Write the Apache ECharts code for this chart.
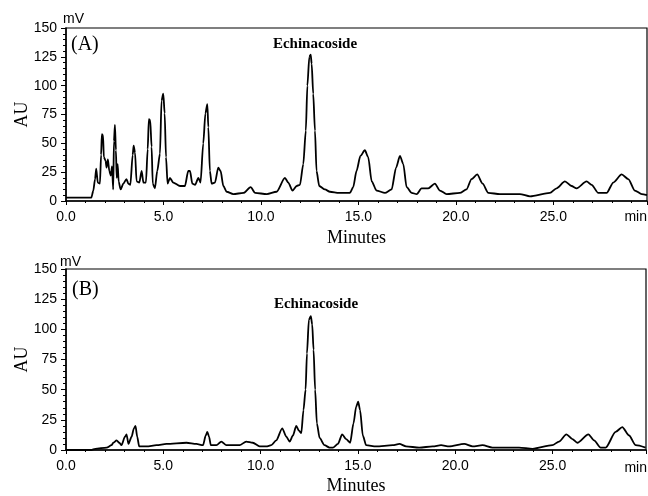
<!DOCTYPE html>
<html>
<head>
<meta charset="utf-8">
<script src="https://cdn.jsdelivr.net/npm/echarts@6/dist/echarts.min.js"></script>
<style>
  html, body { margin: 0; padding: 0; background: #fff; }
  #chart { width: 648px; height: 496px; }
</style>
</head>
<body>
<div id="chart"></div>
<script>
// chromatogram (A): retention time (min) and signal (mV)
var timesA = [0, 1.3, 1.4, 1.49, 1.55, 1.63, 1.74, 1.8, 1.84, 1.9, 1.94, 2.03, 2.08, 2.15, 2.22, 2.3, 2.36, 2.42, 2.46, 2.51,
    2.56, 2.6, 2.65, 2.7, 2.8, 2.94, 3.1, 3.2, 3.3, 3.42, 3.47, 3.54, 3.62, 3.76, 3.88, 3.97, 4.1, 4.19, 4.25, 4.32,
    4.39, 4.45, 4.56, 4.68, 4.82, 4.9, 4.99, 5.06, 5.13, 5.21, 5.33, 5.5, 5.85, 6.1, 6.27, 6.36, 6.48, 6.62, 6.79, 6.9,
    7.04, 7.15, 7.25, 7.3, 7.38, 7.47, 7.64, 7.81, 7.93, 8.07, 8.24, 8.58, 9.1, 9.47, 9.7, 10.3, 10.8, 11.23, 11.4, 11.62,
    11.83, 12.0, 12.17, 12.3, 12.38, 12.48, 12.55, 12.6, 12.68, 12.77, 12.85, 12.99, 13.28, 13.54, 14.0, 14.56, 14.73, 14.9, 15.1, 15.33,
    15.5, 15.68, 15.93, 16.36, 16.7, 16.93, 17.13, 17.3, 17.47, 17.73, 17.99, 18.24, 18.58, 18.92, 19.18, 19.52, 20.2, 20.54, 20.8, 21.09,
    21.37, 21.66, 22.26, 23.28, 23.8, 24.82, 25.16, 25.59, 25.93, 26.19, 26.7, 26.96, 27.3, 27.73, 28.07, 28.5, 28.84, 29.18, 29.53, 29.8]
var signalA = [3, 3, 9, 19, 28, 16, 15, 40, 58, 57, 38, 35, 29, 36, 26, 22, 30, 10, 52, 66,
    44, 20, 32, 17, 10, 15, 19, 15, 14, 40, 48, 42, 17, 16, 26, 16, 16, 45, 71, 70,
    47, 15, 11, 26, 41, 87, 93, 76, 38, 15, 20, 16, 13, 13, 26, 26, 15, 14, 20, 16,
    50, 76, 84, 64, 26, 15, 16, 29, 26, 13, 8, 6, 7, 12, 7, 6, 8, 20, 16, 9,
    13, 14, 32, 61, 100, 125, 127, 119, 93, 61, 26, 13, 10, 8, 7, 7, 12, 26, 39, 44,
    38, 17, 9, 7, 10, 29, 39, 32, 12, 7, 6, 11, 11, 15, 9, 6, 7, 10, 19, 23,
    15, 7, 6, 6, 4, 7, 11, 17, 13, 11, 17, 14, 7, 7, 16, 23, 19, 9, 6, 5]

// chromatogram (B)
var timesB = [0, 1.3, 1.5, 2.09, 2.34, 2.43, 2.6, 2.74, 2.85, 3.03, 3.11, 3.21, 3.37, 3.49, 3.57, 3.66, 3.76, 4.14, 4.65, 5.16,
    6.19, 6.7, 7.04, 7.18, 7.26, 7.35, 7.44, 7.73, 7.98, 8.24, 8.58, 8.92, 9.26, 9.6, 9.95, 10.29, 10.55, 10.8, 11.11, 11.32,
    11.49, 11.66, 11.83, 11.97, 12.09, 12.2, 12.31, 12.38, 12.48, 12.58, 12.65, 12.72, 12.8, 12.89, 13.03, 13.28, 13.54, 13.71, 13.97, 14.19,
    14.39, 14.6, 14.77, 14.91, 15.01, 15.11, 15.25, 15.42, 15.93, 16.79, 17.13, 17.47, 18.15, 18.84, 19.27, 19.69, 20.46, 20.89, 21.4, 21.91,
    23.28, 23.97, 24.99, 25.33, 25.71, 26.02, 26.27, 26.84, 27.13, 27.47, 27.73, 28.24, 28.58, 28.93, 29.27, 29.78]
var signalB = [0, 0, 1, 2, 4, 6, 8, 6, 4, 11, 13, 5, 11, 18, 20, 11, 3, 3, 4, 5,
    6, 5, 4, 12, 15, 11, 4, 4, 7, 4, 4, 4, 7, 6, 3, 3, 4, 8, 18, 11,
    7, 12, 20, 16, 14, 33, 50, 80, 108, 111, 104, 83, 50, 22, 10, 4, 2, 2, 5, 13,
    9, 6, 22, 36, 40, 33, 12, 4, 3, 4, 5, 3, 2, 3, 4, 3, 5, 3, 4, 2,
    2, 1, 4, 7, 13, 9, 6, 13, 8, 2, 2, 15, 19, 12, 4, 2]

var xTicks = [0, 5, 10, 15, 20, 25]
var yTicks = [0, 25, 50, 75, 100, 125, 150]

function zip(xs, ys) {
    return xs.map(function (x, i) { return [x, ys[i]] })
}

var sans = 'Liberation Sans'
var serif = 'Liberation Serif'

function makeX(gridIndex, gap) {
    return {
        type: 'value', gridIndex: gridIndex, min: 0, max: 29.8, interval: 5,
        name: 'Minutes', nameLocation: 'middle', nameGap: gap, nameMoveOverlap: false,
        nameTextStyle: {fontFamily: serif, fontSize: 18, color: '#000'},
        axisLine: {onZero: false, lineStyle: {color: '#000', width: 1.5}},
        axisTick: {length: 4, lineStyle: {color: '#000'}},
        minorTick: {show: true, splitNumber: 5, length: 2, lineStyle: {color: '#000'}},
        splitLine: {show: false},
        axisLabel: {
            fontFamily: sans, fontSize: 14, color: '#000', margin: 9, showMaxLabel: false,
            formatter: function (v) { return xTicks.indexOf(v) >= 0 ? v.toFixed(1) : '' }
        }
    }
}

function makeY(gridIndex) {
    return {
        type: 'value', gridIndex: gridIndex, min: 0, max: 150, interval: 25,
        name: 'AU', nameLocation: 'middle', nameGap: 35, nameRotate: 90, nameMoveOverlap: false,
        nameTextStyle: {fontFamily: serif, fontSize: 18, color: '#000'},
        axisLine: {lineStyle: {color: '#000', width: 1.5}},
        axisTick: {length: 5, lineStyle: {color: '#000'}},
        minorTick: {show: true, splitNumber: 5, length: 3, lineStyle: {color: '#000'}},
        splitLine: {show: false},
        axisLabel: {
            fontFamily: sans, fontSize: 14, color: '#000', margin: 9,
            formatter: function (v) { return yTicks.indexOf(v) >= 0 ? String(v) : '' }
        }
    }
}

function lineSeries(idx, data) {
    return {
        type: 'line', xAxisIndex: idx, yAxisIndex: idx, data: data,
        showSymbol: false, smooth: 0.25, smoothMonotone: 'x',
        lineStyle: {color: '#000', width: 1.8}, silent: true, animation: false
    }
}

function txt(x, y, s, font, size, weight, align) {
    return {
        type: 'text', x: x, y: y,
        style: {text: s, fontFamily: font, fontSize: size, fontWeight: weight || 'normal',
            fill: '#000', align: align || 'left', verticalAlign: 'middle'}
    }
}

var myChart = echarts.init(document.getElementById('chart'), null, {renderer: 'canvas'})

myChart.setOption({
    animation: false,
    grid: [
        {left: 66, right: 1, top: 28, height: 173, show: true, borderColor: '#000', borderWidth: 1.2},
        {left: 66, right: 2, top: 269, height: 183, show: true, borderColor: '#000', borderWidth: 1.2}
    ],
    xAxis: [makeX(0, 28), makeX(1, 27)],
    yAxis: [makeY(0), makeY(1)],
    series: [lineSeries(0, zip(timesA, signalA)), lineSeries(1, zip(timesB, signalB))],
    graphic: [
        txt(63, 19, 'mV', sans, 14),
        txt(71, 45, '(A)', serif, 20),
        txt(315, 44, 'Echinacoside', serif, 15, 'bold', 'center'),
        txt(647, 217, 'min', sans, 14, 'normal', 'right'),
        txt(60, 262, 'mV', sans, 14),
        txt(72, 290, '(B)', serif, 20),
        txt(316, 304, 'Echinacoside', serif, 15, 'bold', 'center'),
        txt(647, 468, 'min', sans, 14, 'normal', 'right')
    ]
})
</script>
</body>
</html>
